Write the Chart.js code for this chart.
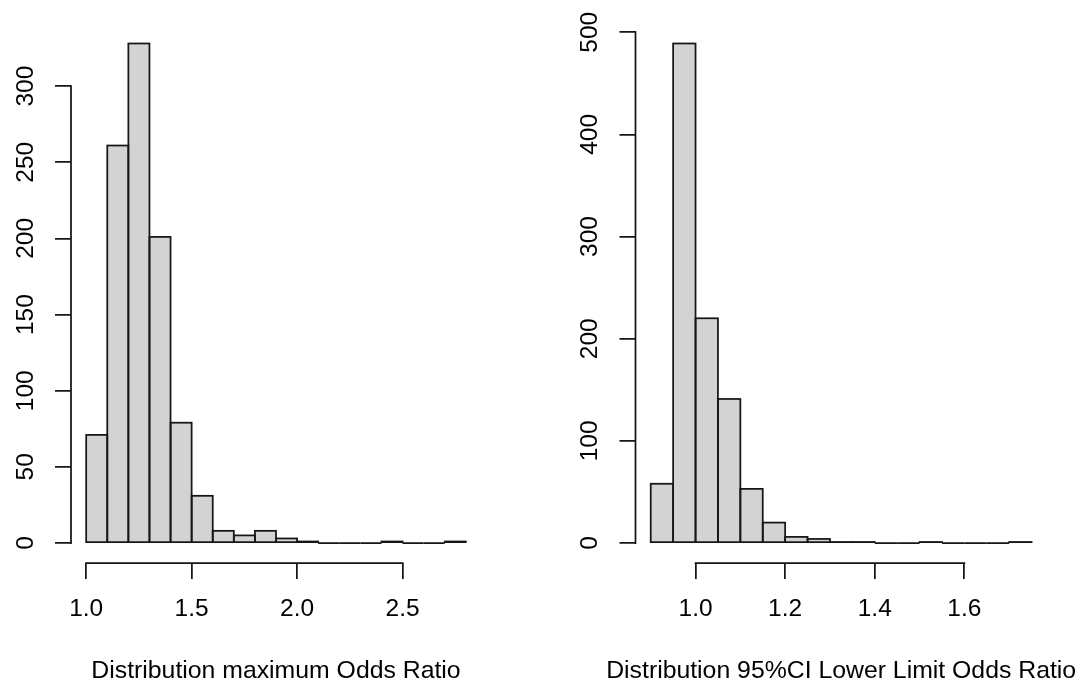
<!DOCTYPE html>
<html>
<head>
<meta charset="utf-8">
<script src="https://cdn.jsdelivr.net/npm/chart.js@4"></script>
<style>
  html, body { margin: 0; padding: 0; background: #ffffff; }
  body { width: 1085px; height: 688px; position: relative; overflow: hidden; }
  canvas { position: absolute; top: 0; }
  #left { left: 0; }
  #right { left: 542px; }
</style>
</head>
<body>
<canvas id="left" width="542" height="688"></canvas>
<canvas id="right" width="543" height="688"></canvas>
<script>
// ---- Data: left histogram ----
const leftBreaks = [1.0, 1.1, 1.2, 1.3, 1.4, 1.5, 1.6, 1.7, 1.8, 1.9, 2.0, 2.1, 2.2, 2.3, 2.4, 2.5, 2.6, 2.7, 2.8];
const leftCounts = [71, 261, 328, 201, 79, 31, 8, 5, 8, 3, 1, 0, 0, 0, 1, 0, 0, 1];
const leftXTicks = [1.0, 1.5, 2.0, 2.5];
const leftYTicks = [0, 50, 100, 150, 200, 250, 300];
const leftTitle = "Distribution maximum Odds Ratio";

// ---- Data: right histogram ----
const rightBreaks = [0.9, 0.95, 1.0, 1.05, 1.1, 1.15, 1.2, 1.25, 1.3, 1.35, 1.4, 1.45, 1.5, 1.55, 1.6, 1.65, 1.7, 1.75];
const rightCounts = [58, 489, 220, 141, 53, 20, 6, 4, 1, 1, 0, 0, 1, 0, 0, 0, 1];
const rightXTicks = [1.0, 1.2, 1.4, 1.6];
const rightYTicks = [0, 100, 200, 300, 400, 500];
const rightTitle = "Distribution 95%CI Lower Limit Odds Ratio";

const FONT = { family: "'Liberation Sans', Arial, sans-serif", size: 24.5, lineHeight: 1.2 };
const TITLE_SIZE = 24.8;
const INK = '#161616';
const LW = 1.75;

// R-style axes, histogram outlines and axis title
const rStyle = {
  id: 'rStyle',
  afterDatasetsDraw(chart) {
    const ctx = chart.ctx;
    const meta = chart.getDatasetMeta(0);
    ctx.save();
    ctx.strokeStyle = INK;
    ctx.lineWidth = LW;
    meta.data.forEach(el => {
      const p = el.getProps(['x', 'y', 'base', 'width'], true);
      ctx.strokeRect(p.x - p.width / 2, p.y, p.width, p.base - p.y);
    });
    ctx.restore();
  },
  afterDraw(chart, args, opts) {
    const ctx = chart.ctx;
    const xs = chart.scales.x, ys = chart.scales.y;
    const xt = opts.xTicks, yt = opts.yTicks;
    const area = chart.chartArea;
    ctx.save();
    ctx.strokeStyle = INK;
    ctx.lineWidth = LW;
    ctx.lineCap = 'square';
    ctx.beginPath();
    ctx.moveTo(area.left, ys.getPixelForValue(yt[0]));
    ctx.lineTo(area.left, ys.getPixelForValue(yt[yt.length - 1]));
    ctx.moveTo(xs.getPixelForValue(xt[0]), area.bottom);
    ctx.lineTo(xs.getPixelForValue(xt[xt.length - 1]), area.bottom);
    ctx.stroke();
    // x-axis title, centred on the plot region like R's title(xlab=)
    ctx.fillStyle = '#000';
    ctx.font = TITLE_SIZE + 'px ' + FONT.family;
    ctx.textAlign = 'center';
    ctx.textBaseline = 'alphabetic';
    ctx.fillText(opts.title, (area.left + area.right) / 2, 678);
    ctx.restore();
  }
};

function makeHist(canvasId, breaks, counts, xTicks, yTicks, title, geom) {
  const pts = counts.map((c, i) => ({ x: (breaks[i] + breaks[i + 1]) / 2, y: c }));
  const bLo = breaks[0], bHi = breaks[breaks.length - 1];
  const xPad = (bHi - bLo) * 0.04;
  const yMax = Math.max(...counts);
  const yPad = yMax * 0.04;
  new Chart(document.getElementById(canvasId), {
    type: 'bar',
    data: {
      datasets: [{
        data: pts,
        backgroundColor: '#D3D3D3',
        borderWidth: 0,
        barPercentage: 1.0,
        categoryPercentage: 1.0,
        inflateAmount: 0
      }]
    },
    options: {
      responsive: false,
      animation: false,
      events: [],
      layout: { padding: { top: 23.5, right: geom.padRight, left: 0, bottom: 0 } },
      plugins: {
        legend: { display: false },
        tooltip: { enabled: false },
        rStyle: { xTicks: xTicks, yTicks: yTicks, title: title }
      },
      scales: {
        x: {
          type: 'linear',
          offset: false,
          min: bLo - xPad,
          max: bHi + xPad,
          afterBuildTicks: (axis) => { axis.ticks = xTicks.map(v => ({ value: v })); },
          afterFit: (axis) => { axis.height = 125; },
          border: { display: false },
          grid: { offset: false, drawOnChartArea: false, drawTicks: true, tickLength: 16, tickWidth: LW, tickColor: INK, lineWidth: LW, color: INK },
          ticks: {
            autoSkip: false,
            maxRotation: 0,
            minRotation: 0,
            padding: 16,
            color: '#000',
            font: FONT,
            callback: (v) => Number(v).toFixed(1)
          },
          title: { display: false }
        },
        y: {
          type: 'linear',
          min: -yPad,
          max: yMax + yPad,
          afterBuildTicks: (axis) => { axis.ticks = yTicks.map(v => ({ value: v })); },
          afterFit: (axis) => { axis.width = geom.yWidth; },
          border: { display: false },
          grid: { drawOnChartArea: false, drawTicks: true, tickLength: 16, tickWidth: LW, tickColor: INK, lineWidth: LW, color: INK },
          ticks: {
            autoSkip: false,
            minRotation: 90,
            maxRotation: 90,
            crossAlign: 'center',
            padding: 8.5,
            color: '#000',
            font: FONT,
            callback: (v) => String(v)
          }
        }
      }
    },
    plugins: [rStyle]
  });
}

makeHist('left', leftBreaks, leftCounts, leftXTicks, leftYTicks, leftTitle, { padRight: 61, yWidth: 71 });
makeHist('right', rightBreaks, rightCounts, rightXTicks, rightYTicks, rightTitle, { padRight: 38.2, yWidth: 93.5 });
</script>
</body>
</html>
